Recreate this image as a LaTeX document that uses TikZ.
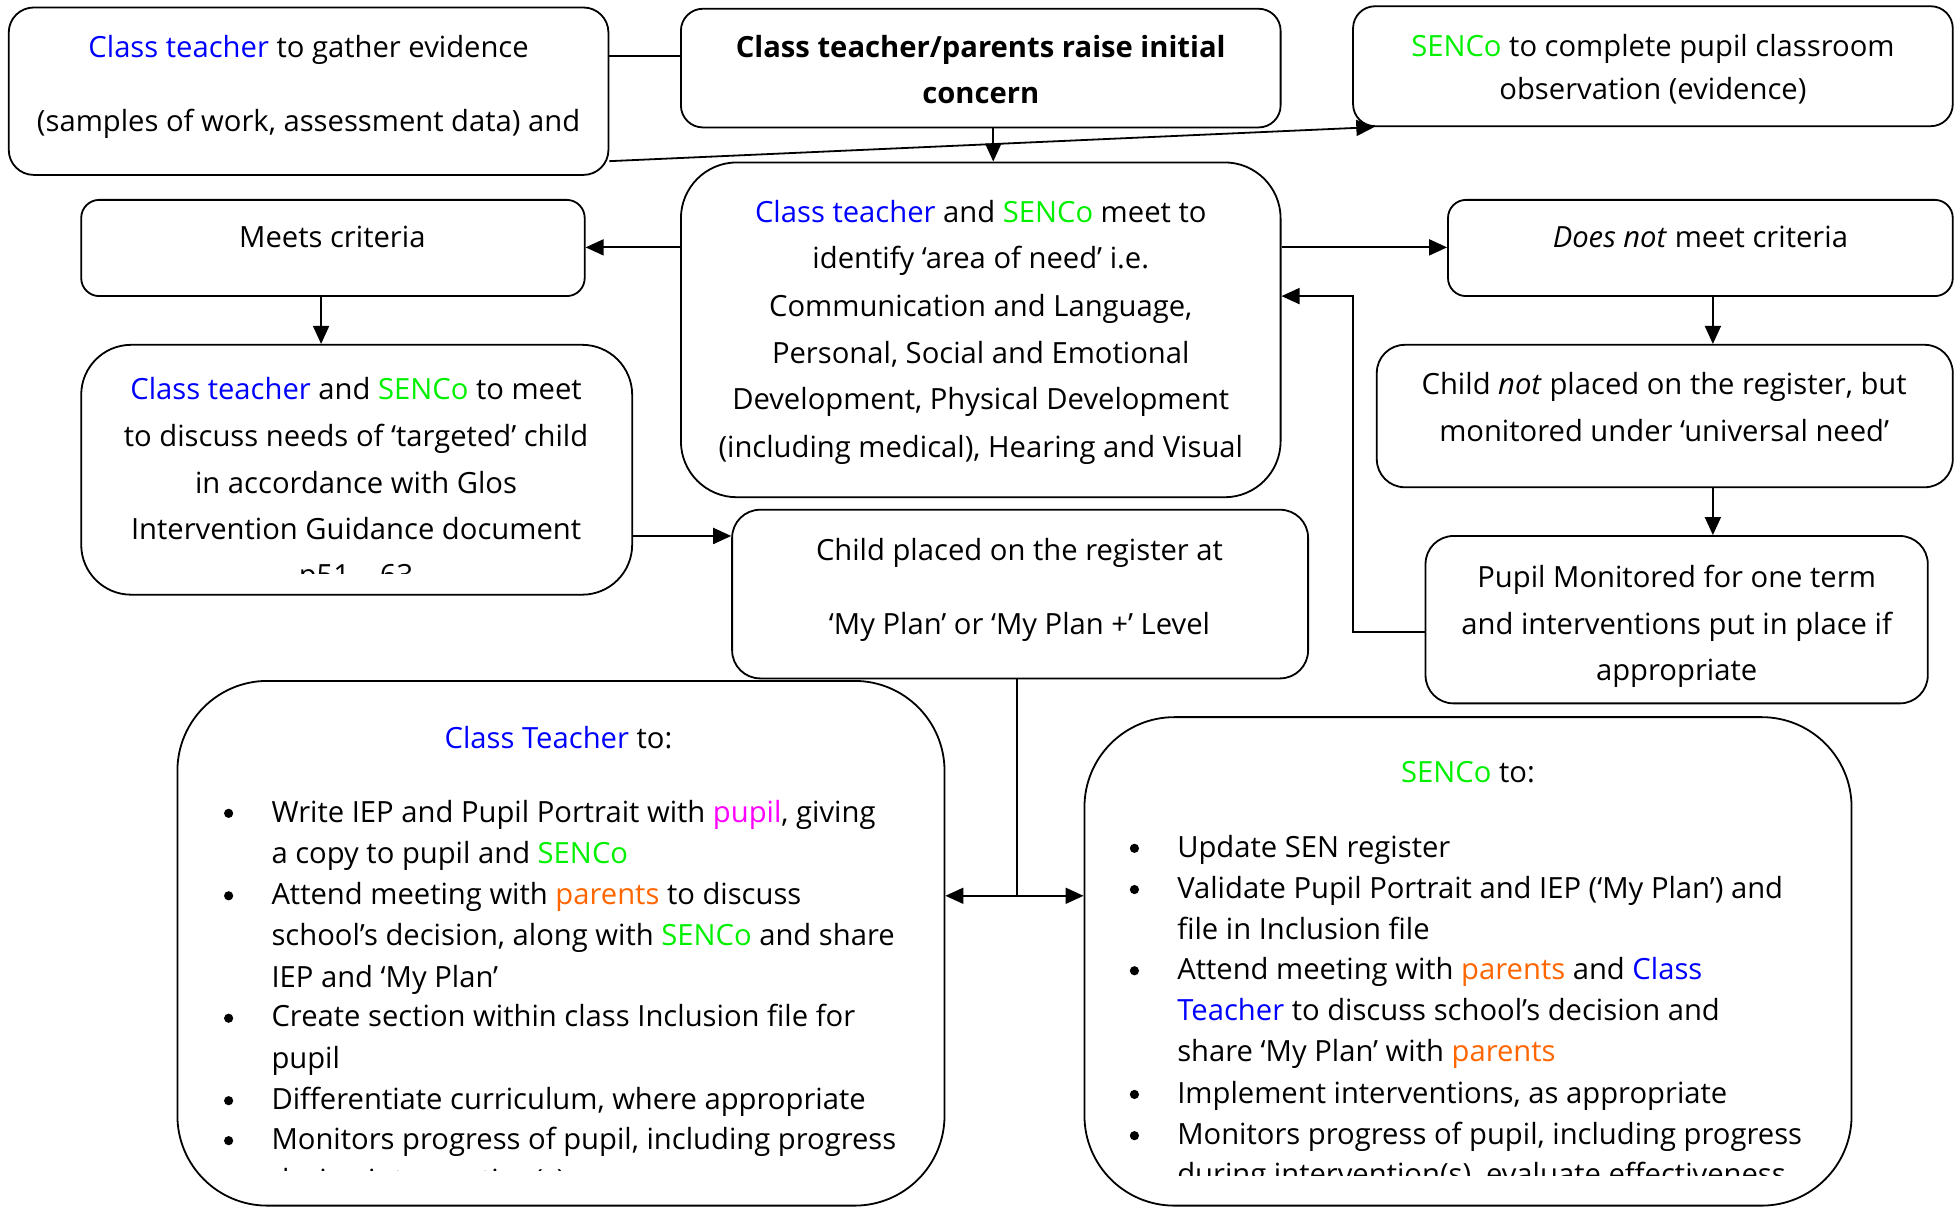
\documentclass[tikz,border=0pt]{standalone}
\usepackage{fontspec}
\setmainfont{Open Sans}
\usetikzlibrary{arrows.meta,fit}
\definecolor{cblue}{RGB}{0,0,255}
\definecolor{cgreen}{RGB}{0,240,0}
\definecolor{cmag}{RGB}{255,0,255}
\definecolor{corange}{RGB}{255,102,0}
\newcommand\fs{\fontsize{14.6pt}{18pt}\selectfont}
\newcommand\cb[1]{\textcolor{cblue}{#1}}
\newcommand\cg[1]{\textcolor{cgreen}{#1}}
\newcommand\cm[1]{\textcolor{cmag}{#1}}
\newcommand\co[1]{\textcolor{corange}{#1}}
\newcommand\txtc[4]{\node[tc] (#1) at (#2,#3) {#4};}
\newcommand\txtl[4]{\node[tl] (#1) at (#2,#3) {#4};}
\newcommand\bul[3]{\node[bdot] (#1) at (#2,#3-7) {};}
\begin{document}
\begin{tikzpicture}[x=0.6247pt,y=-0.6247pt,
  box/.style={draw, line width=0.9pt, inner sep=0pt},
  tc/.style={anchor=base, inner sep=0pt, font=\fs},
  tl/.style={anchor=base west, inner sep=0pt, font=\fs},
  bdot/.style={circle, fill, inner sep=0pt, minimum size=4.6pt},
  ln/.style={line width=0.9pt},
  arr/.style={line width=0.9pt, -{Triangle[length=9pt,width=8pt]}},
  arrb/.style={line width=0.9pt, {Triangle[length=9pt,width=8pt]}-{Triangle[length=9pt,width=8pt]}}]
\fill[white] (0,0) rectangle (1568,967);
\useasboundingbox (0,0) rectangle (1568,967);
% boxes
\node[box, rounded corners=12.5pt, fit={(7,6) (487,140)}] (A) {};
\node[box, rounded corners=11pt, fit={(545,7) (1025,102)}] (B) {};
\node[box, rounded corners=11pt, fit={(1083,5) (1563,101)}] (C) {};
\node[box, rounded corners=9pt, fit={(65,160) (468,237)}] (D) {};
\node[box, rounded corners=28pt, fit={(545,130) (1025,398)}] (E) {};
\node[box, rounded corners=9pt, fit={(1159,160) (1563,237)}] (F) {};
\node[box, rounded corners=25pt, fit={(65,276) (506,476)}] (G) {};
\node[box, rounded corners=14pt, fit={(1102,276) (1563,390)}] (H) {};
\node[box, rounded corners=14pt, fit={(586,408) (1047,543)}] (I) {};
\node[box, rounded corners=14pt, fit={(1141,429) (1543,563)}] (J) {};
\node[box, rounded corners=45pt, fit={(142,545) (756,965)}] (K) {};
\node[box, rounded corners=45pt, fit={(868,574) (1482,965)}] (L) {};
% texts
\txtc{A1}{247}{46}{\cb{Class teacher} to gather evidence}
\txtc{A2}{247}{105}{(samples of work, assessment data) and}
\txtc{B1}{785}{46}{\bfseries Class teacher/parents raise initial}
\txtc{B2}{785}{83}{\bfseries concern}
\txtc{C1}{1323}{45}{\cg{SENCo} to complete pupil classroom}
\txtc{C2}{1323}{80}{observation (evidence)}
\txtc{D1}{266}{198}{Meets criteria}
\txtc{E1}{785}{178}{\cb{Class teacher} and \cg{SENCo} meet to}
\txtc{E2}{785}{215}{identify ‘area of need’ i.e.}
\txtc{E3}{785}{253}{Communication and Language,}
\txtc{E4}{785}{291}{Personal, Social and Emotional}
\txtc{E5}{785}{328}{Development, Physical Development}
\txtc{E6}{785}{366}{(including medical), Hearing and Visual}
\txtc{F1}{1361}{198}{\emph{Does not} meet criteria}
\txtc{G1}{285}{320}{\cb{Class teacher} and \cg{SENCo} to meet}
\txtc{G2}{285}{357}{to discuss needs of ‘targeted’ child}
\txtc{G3}{285}{395}{in accordance with Glos}
\txtc{G4}{285}{432}{Intervention Guidance document}
\begin{scope}
\clip (100,440) rectangle (480,459);
\txtc{G5}{285}{469}{p51 – 63}
\end{scope}
\txtc{H1}{1332}{316}{Child \emph{not} placed on the register, but}
\txtc{H2}{1332}{353}{monitored under ‘universal need’}
\txtc{I1}{816}{449}{Child placed on the register at}
\txtc{I2}{816}{508}{‘My Plan’ or ‘My Plan +’ Level}
\txtc{J1}{1342}{470}{Pupil Monitored for one term}
\txtc{J2}{1342}{508}{and interventions put in place if}
\txtc{J3}{1342}{545}{appropriate}
% Class teacher box
\txtc{K0}{447}{599}{\cb{Class Teacher} to:}
\bul{Kb1}{183}{658}\txtl{K1}{217}{658}{Write IEP and Pupil Portrait with \cm{pupil}, giving}
\txtl{K2}{217}{691}{a copy to pupil and \cg{SENCo}}
\bul{Kb2}{183}{724}\txtl{K3}{217}{724}{Attend meeting with \co{parents} to discuss}
\txtl{K4}{217}{757}{school’s decision, along with \cg{SENCo} and share}
\txtl{K5}{217}{790}{IEP and ‘My Plan’}
\bul{Kb3}{183}{822}\txtl{K6}{217}{822}{Create section within class Inclusion file for}
\txtl{K7}{217}{855}{pupil}
\bul{Kb4}{183}{888}\txtl{K8}{217}{888}{Differentiate curriculum, where appropriate}
\bul{Kb5}{183}{920}\txtl{K9}{217}{920}{Monitors progress of pupil, including progress}
\begin{scope}
\clip (200,929) rectangle (740,937);
\txtl{K10}{217}{953}{during intervention(s)}
\end{scope}
% SENCo box
\txtc{L0}{1175}{626}{\cg{SENCo} to:}
\bul{Lb1}{908}{686}\txtl{L1}{942}{686}{Update SEN register}
\bul{Lb2}{908}{719}\txtl{L2}{942}{719}{Validate Pupil Portrait and IEP (‘My Plan’) and}
\txtl{L3}{942}{752}{file in Inclusion file}
\bul{Lb3}{908}{784}\txtl{L4}{942}{784}{Attend meeting with \co{parents} and \cb{Class}}
\txtl{L5}{942}{817}{\cb{Teacher} to discuss school’s decision and}
\txtl{L6}{942}{850}{share ‘My Plan’ with \co{parents}}
\bul{Lb4}{908}{883}\txtl{L7}{942}{883}{Implement interventions, as appropriate}
\bul{Lb5}{908}{916}\txtl{L8}{942}{916}{Monitors progress of pupil, including progress}
\begin{scope}
\clip (930,925) rectangle (1470,941);
\txtl{L9}{942}{948}{during intervention(s), evaluate effectiveness}
\end{scope}
% connectors
\draw[ln] (A.east |- 0,45) -- (B.west |- 0,45);
\draw[arr] (A.east |- 0,129) -- (C.south -| 1100,0);
\draw[arr] (B.south -| 795,0) -- (E.north -| 795,0);
\draw[arr] (E.west |- 0,198) -- (D.east |- 0,198);
\draw[arr] (E.east |- 0,198) -- (F.west |- 0,198);
\draw[arr] (D.south -| 257,0) -- (G.north -| 257,0);
\draw[arr] (F.south -| 1371,0) -- (H.north -| 1371,0);
\draw[arr] (H.south -| 1371,0) -- (J.north -| 1371,0);
\draw[arr] (J.west |- 0,506) -- (1083,506) -- (1083,237) -- (E.east |- 0,237);
\draw[arr] (G.east |- 0,429) -- (I.west |- 0,429);
\coordinate (jn) at (814,717);
\draw[ln] (I.south -| jn) -- (jn);
\draw[arrb] (K.east |- jn) -- (L.west |- jn);
\end{tikzpicture}
\end{document}
